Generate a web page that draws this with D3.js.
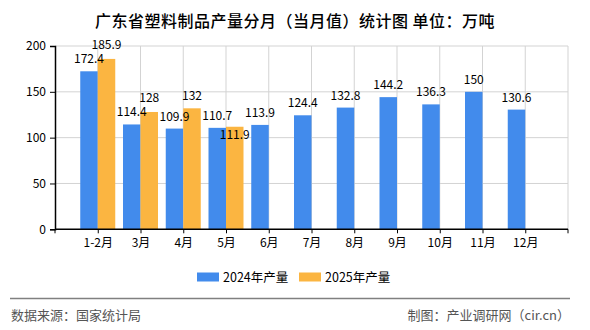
<!DOCTYPE html>
<html><head><meta charset="utf-8">
<script src="https://cdn.jsdelivr.net/npm/d3@7"></script>
<style>body{margin:0;background:#fff}svg{display:block}</style>
</head><body>
<svg id="c" width="590" height="330"></svg>
<script>
const categories = ["1-2月","3月","4月","5月","6月","7月","8月","9月","10月","11月","12月"];
const values2024 = [172.4,114.4,109.9,110.7,113.9,124.4,132.8,144.2,136.3,150,130.6];
const values2025 = [185.9,128,132,111.9];
const yTicks = [0,50,100,150,200];
const seriesNames = ["2024年产量","2025年产量"];
const colors = ["#428BEC","#FBB541"];

const svg = d3.select("#c");
const L = 55, R = 568, T = 46, B = 229.3;
const font = "'Noto Sans CJK SC', 'DejaVu Sans', sans-serif";
const x = d3.scalePoint().domain(categories).range([L, R]).padding(1);
const y = d3.scaleLinear().domain([0, 200]).range([B, T]);
const bw = 17.5;

// title
svg.append("text").attr("x", 295).attr("y", 27).attr("text-anchor", "middle")
  .attr("font-family", font).attr("font-size", 16).attr("font-weight", 500).attr("fill", "#000")
  .attr("letter-spacing", 0.5)
  .text("广东省塑料制品产量分月（当月值）统计图 单位：万吨");

// grid
const g = svg.append("g");
g.selectAll(".hg").data(yTicks.filter(d => d > 0)).enter().append("line")
  .attr("x1", L).attr("x2", R).attr("y1", d => y(d)).attr("y2", d => y(d))
  .attr("stroke", "#d3d3d3").attr("stroke-width", 1);
g.selectAll(".vg").data(categories).enter().append("line")
  .attr("x1", d => x(d)).attr("x2", d => x(d)).attr("y1", T).attr("y2", B)
  .attr("stroke", "#d3d3d3").attr("stroke-width", 1);
g.append("line").attr("x1", R).attr("x2", R).attr("y1", T).attr("y2", B)
  .attr("stroke", "#d3d3d3");

// bars
svg.append("g").selectAll("rect").data(values2024).enter().append("rect")
  .attr("x", (d, i) => x(categories[i]) - bw).attr("width", bw)
  .attr("y", d => y(d)).attr("height", d => B - y(d)).attr("fill", colors[0]);
svg.append("g").selectAll("rect").data(values2025).enter().append("rect")
  .attr("x", (d, i) => x(categories[i])).attr("width", bw)
  .attr("y", d => y(d)).attr("height", d => B - y(d)).attr("fill", colors[1]);

// axes
const yAxis = d3.axisLeft(y).tickValues(yTicks).tickSize(5).tickPadding(4);
const ya = svg.append("g").attr("transform", `translate(${L},0)`).call(yAxis);
const xAxis = d3.axisBottom(x).tickSize(4).tickPadding(5);
const xa = svg.append("g").attr("transform", `translate(0,${B})`).call(xAxis);
[ya, xa].forEach(a => {
  a.select(".domain").attr("stroke", "#000").attr("stroke-width", 1.5);
  a.selectAll(".tick line").attr("stroke", "#000");
  a.selectAll("text").attr("font-family", font).attr("font-size", 12).attr("fill", "#000");
});
xa.select(".domain").attr("d", `M${L},0H${R}`);
xa.selectAll(".end").data([L, R]).enter().append("line").attr("class", "end")
  .attr("x1", d => d).attr("x2", d => d).attr("y1", 0).attr("y2", 4).attr("stroke", "#000");

// labels
const lab = svg.append("g").attr("font-family", font).attr("font-size", 12).attr("fill", "#000")
  .attr("text-anchor", "middle");
lab.selectAll(".l1").data(values2024).enter().append("text")
  .attr("x", (d, i) => x(categories[i]) - bw / 2).attr("y", d => y(d) - 8).text(d => d);
lab.selectAll(".l2").data(values2025).enter().append("text")
  .attr("x", (d, i) => x(categories[i]) + bw / 2)
  .attr("y", (d, i) => Math.abs(d - values2024[i]) < 5 ? y(d) + 12 : (Math.abs(d - values2024[i]) < 15 ? y(d) - 10 : y(d) - 8))
  .text(d => d);

// legend
const lg = svg.append("g").attr("font-family", font).attr("font-size", 12.5);
const lx = [197, 299];
seriesNames.forEach((n, i) => {
  lg.append("rect").attr("x", lx[i]).attr("y", 272.5).attr("width", 22).attr("height", 9).attr("fill", colors[i]);
  lg.append("text").attr("x", lx[i] + 26).attr("y", 281.5).attr("fill", "#000").text(n);
});

// footer
svg.append("line").attr("x1", 10).attr("x2", 570).attr("y1", 298.5).attr("y2", 298.5).attr("stroke", "#808080").attr("stroke-width", 1.5);
svg.append("text").attr("x", 11).attr("y", 320).attr("font-family", font).attr("font-size", 13).attr("fill", "#555").text("数据来源：国家统计局");
svg.append("text").attr("x", 570).attr("y", 320).attr("text-anchor", "end").attr("font-family", font).attr("font-size", 13).attr("fill", "#555").text("制图：产业调研网（cir.cn）");
</script>
</body></html>
